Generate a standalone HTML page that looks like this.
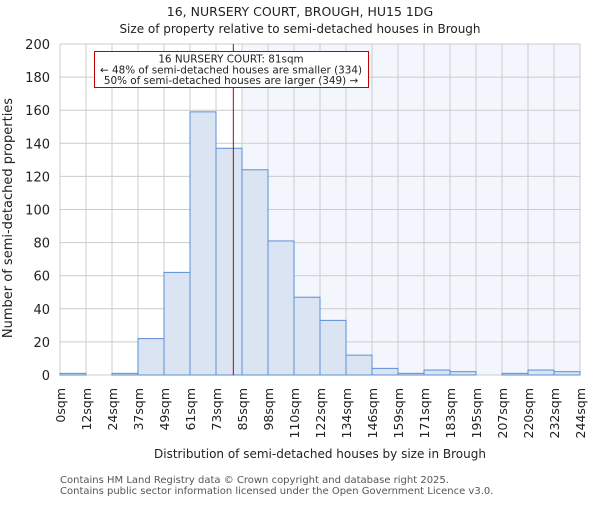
<!DOCTYPE html>
<html><head><meta charset="utf-8"><style>
body{margin:0;background:#fff;}
svg text{font-family:"DejaVu Sans","Liberation Sans",sans-serif;}
</style></head><body>
<svg id="chart" width="600" height="500" xmlns="http://www.w3.org/2000/svg">
<text x="300" y="16" text-anchor="middle" font-size="12.5" fill="#222">16, NURSERY COURT, BROUGH, HU15 1DG</text>
<text x="300" y="33" text-anchor="middle" font-size="12" fill="#222">Size of property relative to semi-detached houses in Brough</text>
<g id="plot"></g>
<text transform="translate(12,218) rotate(-90)" text-anchor="middle" font-size="13" fill="#222">Number of semi-detached properties</text>
<text x="320" y="458" text-anchor="middle" font-size="12" fill="#222">Distribution of semi-detached houses by size in Brough</text>
<text x="60" y="483" font-size="10" fill="#555">Contains HM Land Registry data © Crown copyright and database right 2025.</text>
<text x="60" y="494" font-size="10" fill="#555">Contains public sector information licensed under the Open Government Licence v3.0.</text>
</svg>
<script>
const edgeLabels=["0sqm","12sqm","24sqm","37sqm","49sqm","61sqm","73sqm","85sqm","98sqm","110sqm","122sqm","134sqm","146sqm","159sqm","171sqm","183sqm","195sqm","207sqm","220sqm","232sqm","244sqm"];
const counts=[1,0,1,22,62,159,137,124,81,47,33,12,4,1,3,2,0,1,3,2];
const yTicks=[0,20,40,60,80,100,120,140,160,180,200];
const propertySize=81;
const propertyBin=6; const binLo=73, binHi=85;
const annLines=["16 NURSERY COURT: 81sqm","← 48% of semi-detached houses are smaller (334)","50% of semi-detached houses are larger (349) →"];

const NS="http://www.w3.org/2000/svg";
const L=60,R=580,T=44,B=375;
const n=counts.length, bw=(R-L)/n;
const y=v=>B-(v/200)*(B-T);
const xi=i=>L+i*bw;
const xv=v=>{const p=propertyBin+(v-binLo)/(binHi-binLo);return L+p*bw;};
const g=document.getElementById('plot');
function mk(t,a){const e=document.createElementNS(NS,t);for(const k in a)e.setAttribute(k,a[k]);g.appendChild(e);return e;}
let sh=mk('rect',{x:xi(propertyBin+1),y:T,width:R-xi(propertyBin+1),height:B-T,fill:'#f3f6fd'});


yTicks.forEach(v=>{let l=mk('line',{x1:L,x2:R,y1:y(v),y2:y(v),stroke:'#cccccc','stroke-width':1});


let t=mk('text',{x:L-10,y:y(v)+5,'text-anchor':'end','font-size':13,fill:'#222'});t.textContent=v;

});
edgeLabels.forEach((s,i)=>{let l=mk('line',{x1:xi(i),x2:xi(i),y1:T,y2:B,stroke:'#cccccc','stroke-width':1});


let t=mk('text',{transform:`translate(${xi(i)+5},388) rotate(-90)`,'text-anchor':'end','font-size':12.5,fill:'#222'});t.textContent=s;

});
counts.forEach((c,i)=>{let r=mk('rect',{x:xi(i),y:y(c),width:bw,height:B-y(c),fill:'#dbe4f3',stroke:'#5b8fd6','stroke-width':1});

});
let ml=mk('line',{x1:xv(propertySize),x2:xv(propertySize),y1:T,y2:B,stroke:'#c00000','stroke-width':1});


let ab=mk('rect',{x:94.5,y:51.5,width:274,height:36,fill:'#fff',stroke:'#c00000','stroke-width':1});


annLines.forEach((s,i)=>{let t=mk('text',{x:231,y:62.5+i*10.8,'text-anchor':'middle','font-size':10.4,fill:'#222'});t.textContent=s;

});
</script>
</body></html>
